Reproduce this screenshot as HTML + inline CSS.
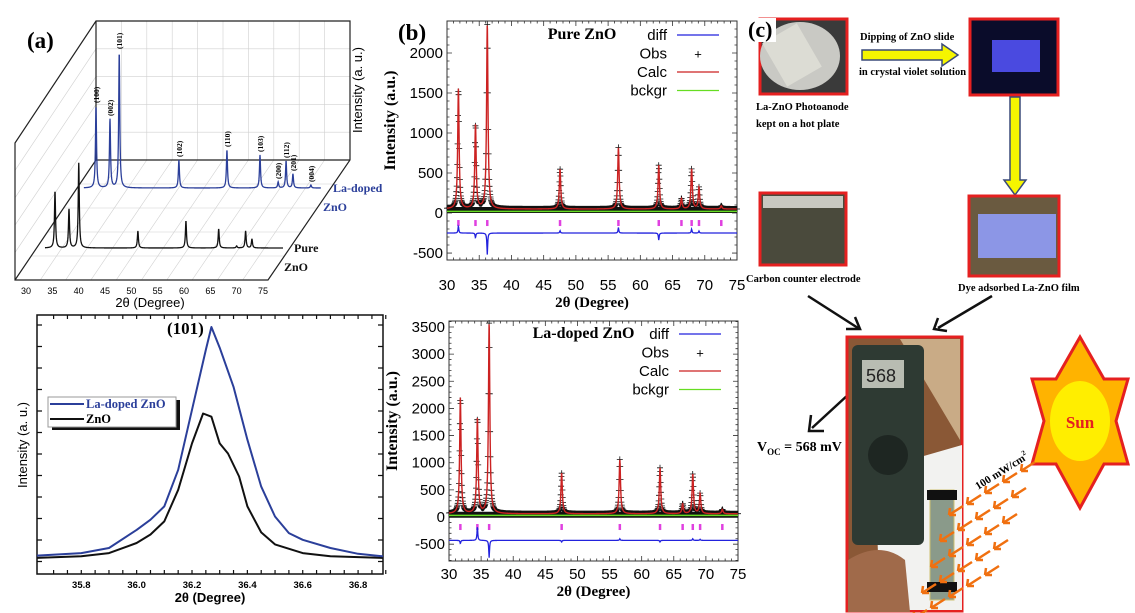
<!DOCTYPE html>
<html><head><meta charset="utf-8"><style>
html,body{margin:0;padding:0;background:#fff;}
svg{display:block;}
.sf{font-family:"Liberation Serif",serif;font-weight:bold;}
.ss{font-family:"Liberation Sans",sans-serif;}
</style></head><body>
<svg id="fig" width="1135" height="613" viewBox="0 0 1135 613" xmlns="http://www.w3.org/2000/svg">
<rect width="1135" height="613" fill="#fff"/>
<g id="pa3d"></g>
<g id="pazoom"></g>
<g id="pbtop"></g>
<g id="pbbot"></g>
<g id="pc">
  <rect x="760" y="19" width="87" height="75" fill="#3a3a3a" stroke="#e52020" stroke-width="3"/>
  <ellipse cx="800" cy="56" rx="40" ry="34" fill="#c9c9c4"/>
  <rect x="772" y="30" width="40" height="50" fill="#dcdcd4" transform="rotate(-30 792 55)"/>
  <rect x="748" y="18" width="28" height="24" fill="#fff"/>
  <text x="748" y="37" class="sf" font-size="22">(c)</text>
  <text x="756" y="110" class="sf" font-size="10.5">La-ZnO Photoanode</text>
  <text x="756" y="127" class="sf" font-size="10.5">kept on a hot plate</text>
  <text x="860" y="40" class="sf" font-size="10.5">Dipping of ZnO slide</text>
  <polygon points="862,50 942,50 942,44 958,55 942,66 942,60 862,60" fill="#f5f500" stroke="#3a4a7a" stroke-width="1.5"/>
  <text x="859" y="75" class="sf" font-size="10.5">in crystal violet solution</text>
  <rect x="970" y="19" width="88" height="76" fill="#0a0c2a" stroke="#e52020" stroke-width="3"/>
  <rect x="992" y="40" width="48" height="32" fill="#4a4ae0"/>
  <polygon points="1010,97 1020,97 1020,180 1026,180 1015,195 1004,180 1010,180" fill="#f5f500" stroke="#3a4a7a" stroke-width="1.5"/>
  <rect x="760" y="193" width="86" height="72" fill="#4a4a3c" stroke="#e52020" stroke-width="3"/>
  <rect x="763" y="196" width="80" height="12" fill="#c8c8c0"/>
  <text x="746" y="282" class="sf" font-size="10.5">Carbon counter electrode</text>
  <rect x="969" y="196" width="90" height="80" fill="#6a5a40" stroke="#e52020" stroke-width="3"/>
  <rect x="978" y="214" width="78" height="44" fill="#8c96e6"/>
  <text x="958" y="291" class="sf" font-size="10.5">Dye adsorbed La-ZnO  film</text>
  <g stroke="#111" stroke-width="2.5" fill="none">
    <line x1="808" y1="296" x2="858" y2="328"/>
    <polyline points="846,329 860,329 855,317"/>
    <line x1="992" y1="296" x2="938" y2="328"/>
    <polyline points="938,318 934,329 947,331"/>
    <line x1="862" y1="382" x2="812" y2="428"/>
    <polyline points="811,415 809,431 824,431"/>
  </g>
  <rect x="847" y="337" width="115" height="274" fill="#8a5836" stroke="#e52020" stroke-width="3"/>
  <polygon points="900,339 960,339 960,440" fill="#c9ab86"/>
  <polygon points="875,470 962,445 962,610 880,610" fill="#f2f2f0"/>
  <rect x="852" y="345" width="72" height="200" rx="6" fill="#2e3a33"/>
  <rect x="862" y="360" width="42" height="28" fill="#b8bcb2"/>
  <text x="866" y="382" class="ss" font-size="18" fill="#222">568</text>
  <circle cx="888" cy="455" r="20" fill="#1e2622"/>
  <rect x="930" y="490" width="24" height="110" fill="#8a9a8a" stroke="#cfc070"/>
  <rect x="927" y="490" width="30" height="10" fill="#111"/><rect x="927" y="582" width="30" height="10" fill="#111"/>
  <path d="M848,560 Q880,540 905,560 L910,612 L848,612 Z" fill="#a06a4a"/>
  <text x="757" y="451" class="sf" font-size="14">V<tspan font-size="9" dy="4">OC</tspan><tspan dy="-4"> = 568 mV</tspan></text>
  <polygon points="1080,337 1104,379 1128,379 1116,421 1128,464 1104,464 1080,508 1056,464 1032,464 1044,421 1032,379 1056,379" fill="#ffb300" stroke="#e52020" stroke-width="3"/>
  <ellipse cx="1080" cy="421" rx="30" ry="40" fill="#ffee00"/>
  <text x="1080" y="428" text-anchor="middle" class="sf" font-size="17" fill="#e52020">Sun</text>
  <text x="978" y="490" class="sf" font-size="11" transform="rotate(-32 978 490)">100 mW/cm<tspan font-size="7" dy="-5">2</tspan></text>
  <g id="rays" stroke="#f07010" stroke-width="2.5" fill="none"></g>
</g>
</svg>
<script>
const NS='http://www.w3.org/2000/svg';
function mk(parent,tag,attrs,text){const e=document.createElementNS(NS,tag);for(const k in attrs)e.setAttribute(k,attrs[k]);if(text!==undefined)e.textContent=text;parent.appendChild(e);return e;}

const A3_POS_PURE=[31.8,34.45,36.3,47.5,56.6,62.8,66.2,67.9,69.1];
const A3_H_PURE=[57,39,85,17,27,19,2,17,9];
const A3_POS_LA=[31.8,34.45,36.2,47.5,56.6,62.86,66.3,67.8,69.1,72.5];
const A3_H_LA=[82,69,136,28,38,33,6,27,14,3];
const A3_HKL=['(100)','(002)','(101)','(102)','(110)','(103)','(200)','(112)','(201)','(004)'];
const A3_XTICKS=[30,35,40,45,50,55,60,65,70,75];

const AZ_X_LA=[35.64,35.8,35.9,36.0,36.05,36.1,36.15,36.2,36.25,36.27,36.3,36.35,36.4,36.45,36.5,36.55,36.6,36.7,36.8,36.89];
const AZ_Y_LA=[0.6,1.7,3.9,11.8,16.2,22,37.9,64,90,100,91,74,51,30.6,17.6,10.4,7.5,3.9,1.4,0.3];
const AZ_X_ZNO=[35.64,35.8,35.9,36.0,36.05,36.1,36.15,36.2,36.24,36.27,36.3,36.33,36.37,36.4,36.45,36.5,36.6,36.7,36.89];
const AZ_Y_ZNO=[-0.4,0.3,1.7,6.1,9.8,15.5,29.2,49.4,62.4,61,49.4,45,35,22,10.7,5.5,1.7,0.3,-0.4];
const AZ_XTICKS=[35.8,36.0,36.2,36.4,36.6,36.8];

const B_PEAKS=[31.77,34.42,36.25,47.54,56.6,62.86,66.38,67.96,69.1,72.56];
const B_H_PURE=[1500,1050,2300,500,770,550,130,500,270,40];
const B_H_LA=[2130,1750,3500,750,1000,850,180,730,370,80];
const B_DIFF_PURE=[90,-60,-270,30,70,-90,0,50,25,0];
const B_DIFF_LA=[-60,260,-320,-30,30,-30,0,30,20,0];
const B_BG_PURE=50, B_BG_LA=60, B_BK_PURE=20, B_BK_LA=30, B_DB_PURE=-250, B_DB_LA=-430;
const B_XTICKS=[30,35,40,45,50,55,60,65,70,75];
const B_YTICKS_TOP=[-500,0,500,1000,1500,2000];
const B_YTICKS_BOT=[-500,0,500,1000,1500,2000,2500,3000,3500];

(function(){
  const g=document.getElementById('pa3d');
  const grid=mk(g,'g',{stroke:'#d0d0d0','stroke-width':0.6,fill:'none'});
  
  
  for(let i=0;i<=10;i++){const x=96+i*25.4;mk(grid,'line',{x1:x,y1:21,x2:x,y2:160});}
  for(let j=0;j<=5;j++){const y=21+j*27.8;mk(grid,'line',{x1:96,y1:y,x2:350,y2:y});mk(grid,'line',{x1:15,y1:143+j*27.4,x2:96,y2:21+j*27.8});}
  for(let i=0;i<=10;i++){const xf=15+i*25.3, xb=96+i*25.4;mk(grid,'line',{x1:xf,y1:280,x2:xb,y2:160});}
  for(let j=1;j<5;j++){const t=j/5;mk(grid,'line',{x1:15+81*t,y1:280-120*t,x2:268+82*t,y2:280-120*t});}
  const ax=mk(g,'path',{d:'M15,143 L96,21 L350,21 L350,160 L268,280 L15,280 Z M96,21 L96,160 L350,160 M96,160 L15,280',stroke:'#222','stroke-width':1.2,fill:'none'});
  
  
  const deg2x=d=>26+(d-30)*(237/45);
  A3_XTICKS.forEach(t=>{const e=mk(g,'text',{x:deg2x(t),y:294,'text-anchor':'middle','font-size':9,class:'ss'},String(t));
    
    });
  const xt=mk(g,'text',{x:150,y:307,'text-anchor':'middle','font-size':13,class:'ss'},'2θ (Degree)');
  
  
  const yt=mk(g,'text',{x:362,y:90,'text-anchor':'middle','font-size':13,class:'ss',transform:'rotate(-90 362 90)'},'Intensity (a. u.)');
  
  
  const lab=mk(g,'text',{x:27,y:48,'font-size':23,class:'sf'},'(a)');
  
  
  function trace(pos,h,x0,base,xs,xe,col,name){
    let d='';const px=d2=>x0+(d2-31.8)*5.28;
    for(let t=xs;t<=xe;t+=0.04){let v=0;pos.forEach((p,i)=>{v+=h[i]/(1+((t-p)/0.12)**2);});d+=(d?'L':'M')+px(t).toFixed(2)+','+(base-v).toFixed(2);}
    const p=mk(g,'path',{d:d,stroke:col,'stroke-width':1.3,fill:'none'});
    
    
  }
  trace(A3_POS_PURE,A3_H_PURE,55,248,29.9,75,'#111','pure-zno-trace');
  trace(A3_POS_LA,A3_H_LA,96,188,29.5,74.4,'#2b3f9a','la-doped-trace');
  A3_POS_LA.forEach((p,i)=>{const x=96+(p-31.8)*5.28+3, y=188-A3_H_LA[i]-3;
    const e=mk(g,'text',{x:x,y:y,'font-size':7.5,class:'sf',transform:`rotate(-90 ${x} ${y})`},A3_HKL[i]);
    
    });
  [['La-doped',333,192,'#2b3f9a'],['ZnO',323,211,'#2b3f9a'],['Pure',294,252,'#111'],['ZnO',284,271,'#111']].forEach(a=>{
    const e=mk(g,'text',{x:a[1],y:a[2],'font-size':12,class:'sf',fill:a[3]},a[0]);
    
    });
})();

(function(){
  const g=document.getElementById('pazoom');
  const L=37,R=383,T=315,B=574;
  const sx=v=>L+(v-35.64)*(R-L)/(36.89-35.64);
  const sy=v=>557-v*2.3;
  const box=mk(g,'rect',{x:L,y:T,width:R-L,height:B-T,fill:'none',stroke:'#111','stroke-width':1.5});
  
  
  let tk='';
  for(let v=35.7;v<36.9;v+=0.05){const x=sx(v);tk+=`M${x},${B}v-4M${x},${T}v4`;}
  for(let y=T+10;y<B;y+=21.5){tk+=`M${L},${y}h5M${R},${y}h-5`;}
  mk(g,'path',{d:tk,stroke:'#111','stroke-width':1.2});
  AZ_XTICKS.forEach(t=>{const e=mk(g,'text',{x:sx(t),y:588,'text-anchor':'middle','font-size':9.5,class:'ss','font-weight':'bold'},t.toFixed(1));
    
    });
  const xt=mk(g,'text',{x:210,y:602,'text-anchor':'middle','font-size':13,class:'ss','font-weight':'bold'},'2θ (Degree)');
  
  
  const yt=mk(g,'text',{x:27,y:445,'text-anchor':'middle','font-size':13,class:'ss',transform:'rotate(-90 27 445)'},'Intensity (a. u.)');
  
  
  function line(xs,ys,col,name){const d=xs.map((x,i)=>(i?'L':'M')+sx(x).toFixed(1)+','+sy(ys[i]).toFixed(1)).join('');
    const p=mk(g,'path',{d:d,stroke:col,'stroke-width':2,fill:'none','stroke-linejoin':'round'});
    
    }
  line(AZ_X_ZNO,AZ_Y_ZNO,'#111','zno-peak-line');
  line(AZ_X_LA,AZ_Y_LA,'#2b3f9a','la-doped-peak-line');
  const pl=mk(g,'text',{x:167,y:334,'font-size':17,class:'sf'},'(101)');
  
  
  const lg=mk(g,'g',{});
  
  
  mk(lg,'rect',{x:52,y:400,width:128,height:30,fill:'#111'});
  mk(lg,'rect',{x:48,y:397,width:128,height:30,fill:'#fff',stroke:'#999'});
  mk(lg,'line',{x1:50,y1:404,x2:84,y2:404,stroke:'#2b3f9a','stroke-width':2});
  mk(lg,'line',{x1:50,y1:419,x2:84,y2:419,stroke:'#111','stroke-width':2});
  mk(lg,'text',{x:86,y:408,'font-size':12.5,class:'sf',fill:'#2b3f9a'},'La-doped ZnO');
  mk(lg,'text',{x:86,y:423,'font-size':12.5,class:'sf'},'ZnO');
})();

function rietveld(gid,L,R,T,B,ymin,ymax,H,DIFF,bg,bk,db,yticks,title,legendY,xlabY,label){
  const g=document.getElementById(gid);
  const sx=v=>L+(v-30)*(R-L)/45;
  const sy=v=>B-(v-ymin)*(B-T)/(ymax-ymin);
  const prof=x=>{let v=bg;B_PEAKS.forEach((p,i)=>{v+=H[i]/(1+((x-p)/0.13)**2);});return v;};
  const fr=mk(g,'rect',{x:L,y:T,width:R-L,height:B-T,fill:'none',stroke:'#333','stroke-width':1});
  
  
  let tk='';
  for(let v=30;v<=75;v+=1){const x=sx(v),l=(v%5===0)?5:2.5;tk+=`M${x},${B}v-${l}M${x},${T}v${l}`;}
  for(let v=ymin-ymin%100;v<=ymax;v+=100){if(v<ymin)continue;const y=sy(v),l=(v%500===0)?5:2.5;tk+=`M${L},${y}h${l}M${R},${y}h-${l}`;}
  mk(g,'path',{d:tk,stroke:'#333','stroke-width':0.8});
  B_XTICKS.forEach(t=>{const e=mk(g,'text',{x:sx(t),y:xlabY,'text-anchor':'middle','font-size':15,class:'ss'},String(t));
    
    });
  yticks.forEach(t=>{const e=mk(g,'text',{x:L-4,y:sy(t)+5,'text-anchor':'end','font-size':15,class:'ss'},String(t));
    
    });
  const xt=mk(g,'text',{x:(L+R)/2,y:xlabY+17,'text-anchor':'middle','font-size':15,class:'sf'},'2θ (Degree)');
  
  
  const yc=(T+B)/2-20;
  const yt=mk(g,'text',{x:L-52,y:yc,'text-anchor':'middle','font-size':16,class:'sf',transform:`rotate(-90 ${L-52} ${yc})`},'Intensity (a.u.)');
  
  
  // baseline noise band at background level only
  const bd=mk(g,'line',{x1:sx(30),y1:sy(bg)+1,x2:sx(75),y2:sy(bg)+1,stroke:'#111','stroke-width':6});
  
  
  let od='';
  for(let x=30;x<=75;x+=0.05){const X=sx(x),Y=sy(prof(x));od+=`M${(X-3).toFixed(1)},${Y.toFixed(1)}h6M${X.toFixed(1)},${(Y-3).toFixed(1)}v6`;}
  const ob=mk(g,'path',{d:od,stroke:'#111','stroke-width':0.8});
  
  
  const bl=mk(g,'line',{x1:sx(30),y1:sy(bk),x2:sx(75),y2:sy(bk),stroke:'#66dd22','stroke-width':1.5});
  
  
  let cd='';
  for(let x=30;x<=75;x+=0.03){cd+=(cd?'L':'M')+sx(x).toFixed(2)+','+sy(prof(x)).toFixed(2);}
  const cl=mk(g,'path',{d:cd,stroke:'#cc2222','stroke-width':1.4,fill:'none'});
  
  
  B_PEAKS.forEach(p=>{const y=sy(0)+7;const r=mk(g,'line',{x1:sx(p),y1:y,x2:sx(p),y2:y+6,stroke:'#e040e0','stroke-width':2.5});
    
    });
  let dd='';
  for(let x=30;x<=75;x+=0.05){let v=db;B_PEAKS.forEach((p,i)=>{v+=DIFF[i]/(1+((x-p)/0.07)**2);});dd+=(dd?'L':'M')+sx(x).toFixed(2)+','+sy(v).toFixed(2);}
  const dl=mk(g,'path',{d:dd,stroke:'#2222dd','stroke-width':1.3,fill:'none'});
  
  
  const ti=mk(g,'text',{x:(L+R)/2-10,y:legendY+4,'text-anchor':'middle','font-size':16,class:'sf'},title);
  
  
  const lg=mk(g,'g',{});
  
  
  [['diff','#2222dd'],['Obs',null],['Calc','#cc2222'],['bckgr','#66dd22']].forEach((a,i)=>{const y=legendY+i*18.5;
    mk(lg,'text',{x:L+220,y:y+5,'text-anchor':'end','font-size':15,class:'ss'},a[0]);
    if(a[1])mk(lg,'line',{x1:L+230,y1:y,x2:L+272,y2:y,stroke:a[1],'stroke-width':1.3});
    else mk(lg,'text',{x:L+251,y:y+5,'text-anchor':'middle','font-size':13,class:'ss'},'+');});
  if(label){const e=mk(g,'text',{x:398,y:40,'font-size':23,class:'sf'},label);
    
    }
}
rietveld('pbtop',447,737,21,260,-587,2400,B_H_PURE,B_DIFF_PURE,B_BG_PURE,B_BK_PURE,B_DB_PURE,B_YTICKS_TOP,'Pure ZnO',35,290,'(b)');
rietveld('pbbot',449,738,321,561,-810,3610,B_H_LA,B_DIFF_LA,B_BG_LA,B_BK_LA,B_DB_LA,B_YTICKS_BOT,'La-doped ZnO',334,579,null);

(function(){const g=document.getElementById('rays');
  for(let c=0;c<5;c++)for(let r=0;r<5;r++){const X=1035-c*18-r*9, Y=462+r*26+c*11;
    const p=mk(g,'path',{d:`M${X},${Y} l-14,9 M${X-14},${Y+9} l7,0 M${X-14},${Y+9} l1,-7`});
    
    }
})();
</script>
</body></html>
